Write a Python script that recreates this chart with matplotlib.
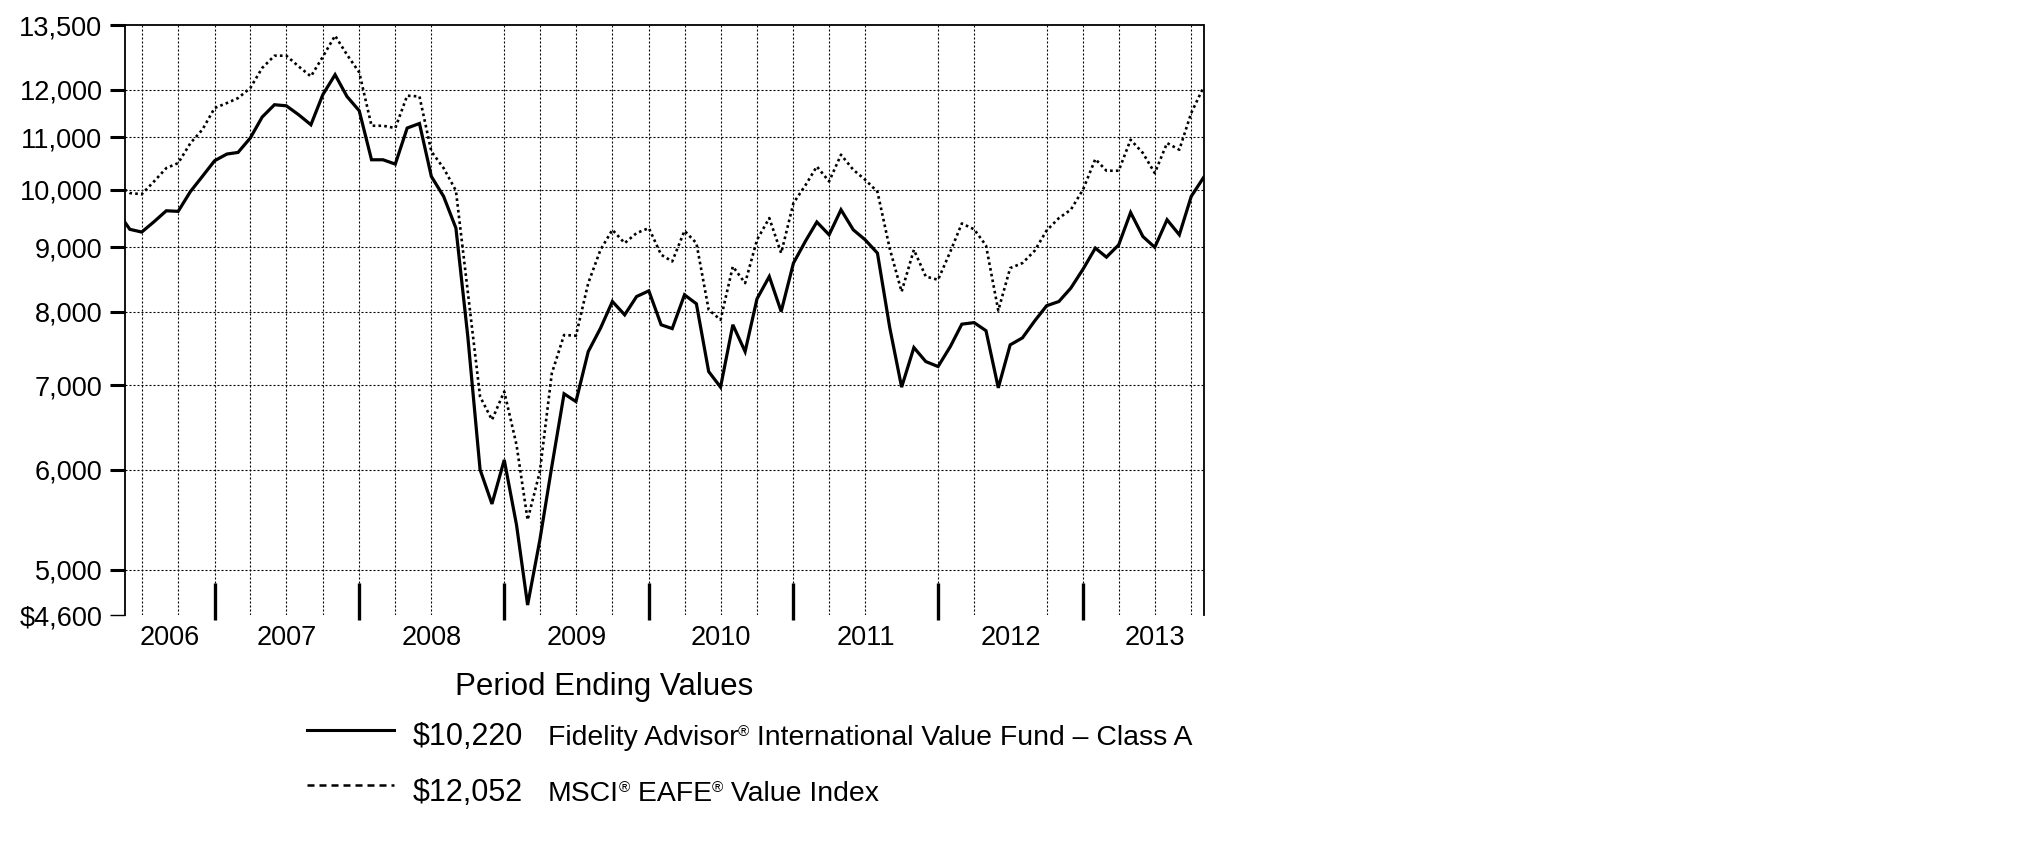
import matplotlib
matplotlib.use("Agg")
import matplotlib.pyplot as plt
import matplotlib.dates as mdates
from matplotlib.lines import Line2D
from matplotlib.ticker import FixedLocator, NullLocator, NullFormatter
import pandas as pd

plt.rcParams['font.family'] = ['Liberation Sans', 'DejaVu Sans']

# --- data: hypothetical growth of $10,000, inception 18 May 2006, month ends to Oct 2013
start = pd.Timestamp('2006-05-18')
end = pd.Timestamp('2013-10-31')
month_ends = pd.period_range('2006-05', '2013-10', freq='M').to_timestamp(how='end').normalize()
dates = [start] + list(month_ends)

fund = [9425, 9300, 9254, 9430, 9620, 9610, 9965, 10242, 10540,
        10669, 10700, 10985, 11414, 11673, 11650, 11462, 11254, 11888, 12330, 11850, 11546,
        10558, 10558, 10475, 11187, 11280, 10242, 9875, 9321, 7650, 6000, 5636, 6107,
        5424, 4687, 5280, 6033, 6890, 6793, 7441, 7766, 8153, 7957, 8227, 8313,
        7814, 7760, 8253, 8119, 7175, 6974, 7814, 7441, 8193, 8533, 8006, 8745,
        9110, 9425, 9208, 9638, 9292, 9124, 8905, 7775, 6974, 7496, 7307, 7241,
        7510, 7823, 7845, 7730, 6965, 7533, 7630, 7870, 8090, 8153, 8354, 8649,
        8987, 8840, 9041, 9590, 9179, 9000, 9464, 9208, 9875, 10220]

index = [10000, 9936, 9915, 10149, 10399, 10495, 10885, 11153, 11603,
         11709, 11815, 12035, 12482, 12765, 12765, 12518, 12292, 12740, 13240, 12790, 12382,
         11234, 11234, 11187, 11867, 11850, 10719, 10399, 9980, 8300, 6855, 6570, 6918,
         6277, 5474, 5980, 7150, 7670, 7660, 8431, 8960, 9292, 9069, 9237, 9321,
         8879, 8771, 9275, 9069, 8031, 7885, 8691, 8431, 9124, 9493, 8905, 9756,
         10087, 10430, 10149, 10656, 10367, 10180, 9960, 8980, 8300, 8960, 8533, 8482,
         8930, 9400, 9300, 9030, 8020, 8665, 8745, 8945, 9280, 9493, 9638, 10000,
         10572, 10349, 10349, 10951, 10689, 10305, 10885, 10753, 11498, 12052]

y_ticks = [4600, 5000, 6000, 7000, 8000, 9000, 10000, 11000, 12000, 13500]
y_labels = ['$4,600', '5,000', '6,000', '7,000', '8,000', '9,000',
            '10,000', '11,000', '12,000', '13,500']
years = [2006, 2007, 2008, 2009, 2010, 2011, 2012, 2013]

fund_label = ('$10,220', 'Fidelity Advisor', ' International Value Fund \u2013 Class A')
index_label = ('$12,052', ['MSCI', ' EAFE', ' Value Index'])

# quarterly grid lines that the original leaves out
skipped_grid = ['2008-09-30', '2011-09-30', '2012-06-30']

W, H = 2025, 851


def fx(x):
    return x / W


def fy(y):
    return 1 - y / H


fig = plt.figure(figsize=(W / 100, H / 100), dpi=100)
ax = fig.add_axes([fx(124.7), fy(615.3), (1203.5 - 124.7) / W, (615.3 - 25) / H])

ax.set_yscale('log')
ax.set_ylim(4600, 13500)
ax.set_xlim(mdates.date2num(start), mdates.date2num(end))

# grid
grid_kw = dict(color='black', lw=0.8, linestyle=(0, (1.8, 1.8)), zorder=1)
for v in y_ticks[1:-1]:
    ax.axhline(v, **grid_kw)
quarters = pd.period_range('2006Q2', '2013Q3', freq='Q').to_timestamp(how='end').normalize()
for q in quarters:
    if q.strftime('%Y-%m-%d') in skipped_grid:
        continue
    ax.axvline(mdates.date2num(q), **grid_kw)

ax.plot(dates, index, color='black', lw=1.9, linestyle=(0, (1, 1.2)), zorder=3)
ax.plot(dates, fund, color='black', lw=2.3, zorder=4, solid_joinstyle='miter')

# y axis
ax.yaxis.set_major_locator(FixedLocator(y_ticks))
ax.yaxis.set_minor_locator(NullLocator())
ax.yaxis.set_minor_formatter(NullFormatter())
ax.set_yticklabels(y_labels)
ax.tick_params(axis='y', length=11, width=2.2, pad=5, labelsize=19.5, color='black')
ax.yaxis.get_major_ticks()[0].tick1line.set_markeredgewidth(1.0)

# x axis: year marks + centred year labels
ax.set_xticks([])
trans = ax.get_xaxis_transform()
year_ends = [mdates.date2num(pd.Timestamp(f'{y}-12-31')) for y in years[:-1]]
ax.vlines(year_ends, -5 / 590, 32 / 590, transform=trans, color='black', lw=2.4, clip_on=False)
x0, x1 = ax.get_xlim()
for y in years:
    a = max(mdates.date2num(pd.Timestamp(f'{y}-01-01')), x0)
    b = min(mdates.date2num(pd.Timestamp(f'{y}-12-31')), x1)
    mid = mdates.date2num(pd.Timestamp(f'{y}-07-01'))
    if mid - a < (b - a) / 2 - 1:
        mid = (a + b) / 2
    ax.text(mid, -9.5 / 590, str(y), transform=trans, ha='center', va='top', fontsize=19.5)

for side in ['left', 'top', 'right']:
    ax.spines[side].set_linewidth(1.3)
ax.spines['bottom'].set_visible(False)

# legend block
renderer = fig.canvas.get_renderer()


def text_runs(x, base, runs):
    for s, size, rise in runs:
        t = fig.text(fx(x), fy(base - rise), s, fontsize=size, va='baseline', ha='left')
        x += t.get_window_extent(renderer).width


fig.text(fx(455), fy(695), 'Period Ending Values', fontsize=22.5, va='baseline')

fig.add_artist(Line2D([fx(307), fx(394)], [fy(730), fy(730)], color='black', lw=2.2))
fig.text(fx(413), fy(745), fund_label[0], fontsize=22, va='baseline')
text_runs(547.6, 745, [(fund_label[1], 20.4, 0), ('\u00ae', 11, 9), (fund_label[2], 20.4, 0)])

fig.add_artist(Line2D([fx(307), fx(394)], [fy(785), fy(785)], color='black', lw=1.8,
                      linestyle=(0, (2.8, 2))))
fig.text(fx(413), fy(801), index_label[0], fontsize=22, va='baseline')
runs = []
for i, part in enumerate(index_label[1]):
    runs.append((part, 20.4, 0))
    if i < 2:
        runs.append(('\u00ae', 11, 9))
text_runs(547.6, 801, runs)

fig.savefig('out.png', dpi=100)
